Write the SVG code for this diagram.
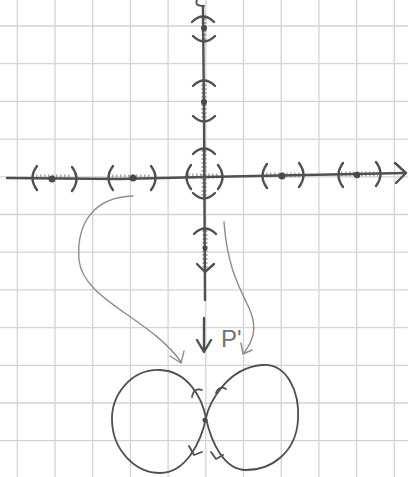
<svg xmlns="http://www.w3.org/2000/svg" width="408" height="477" viewBox="0 0 408 477">
<defs>
<style>
.grid{stroke:#d3d3d3;stroke-width:1.3;fill:none}
.ink{stroke:#505050;stroke-width:2.4;fill:none;stroke-linecap:round;stroke-linejoin:round}
.thin{stroke:#505050;stroke-width:1.8;fill:none;stroke-linecap:round;stroke-linejoin:round}
.pencil{stroke:#8c8c8c;stroke-width:1.4;fill:none;stroke-linecap:round;stroke-linejoin:round}
.hatch{stroke:#a8a8a8;stroke-width:5;fill:none;stroke-dasharray:1.5 2.5}
.dot{fill:#4a4a4a}
.lbl{font-family:"Liberation Sans",Arial,sans-serif;font-size:24px;fill:#727272}
</style>
<path id="lp" class="ink" d="M5,-12 Q-4,0 5,12"/>
<path id="rp" class="ink" d="M-5,-12 Q4,0 -5,12"/>
<path id="tp" class="ink" d="M-11,6 Q0,-5 11,6"/>
<path id="bp" class="ink" d="M-11,-6 Q0,5 11,-6"/>
</defs>
<rect width="408" height="477" fill="#ffffff"/>
<g id="grid" class="grid">
<path d="M17.3,0V477M55,0V477M92.7,0V477M130.4,0V477M168.1,0V477M205.8,0V477M243.5,0V477M281.2,0V477M318.9,0V477M356.6,0V477M394.3,0V477"/>
<path d="M0,26H408M0,63.7H408M0,101.4H408M0,139.1H408M0,176.8H408M0,214.5H408M0,252.2H408M0,289.9H408M0,327.6H408M0,365.3H408M0,403H408M0,440.7H408"/>
</g>
<g id="x-axis">
<path class="hatch" d="M36,177H72M112,177H152M188,176H220M266,175H300M341,174H378"/>
<path class="ink" d="M7,178 L120,179 L205,177 L405,173"/>
<path class="ink" d="M395,163 L406,173 L396,183"/>
<use href="#lp" x="32" y="178"/><use href="#rp" x="77" y="179"/>
<use href="#lp" x="108" y="178"/><use href="#rp" x="156" y="178"/>
<use href="#lp" x="186" y="177"/><use href="#rp" x="223" y="177"/>
<use href="#lp" x="262" y="176"/><use href="#rp" x="304" y="175"/>
<use href="#lp" x="338" y="175"/><use href="#rp" x="381" y="174"/>
<circle class="dot" cx="52" cy="179" r="3.5"/>
<circle class="dot" cx="133" cy="178" r="3.5"/>
<circle class="dot" cx="282" cy="176" r="3.5"/>
<circle class="dot" cx="357" cy="175" r="3.2"/>
</g>
<g id="y-axis">
<path class="hatch" d="M204,18V42M204,84V120M204,150V198M205,230V268" style="stroke-dasharray:2 2"/>
<path class="ink" d="M203,6 L204,120 L205,300"/>
<path class="thin" d="M197,0 Q194,6 204,6"/>
<use href="#tp" x="203" y="16"/><use href="#bp" x="204" y="42"/>
<use href="#tp" x="204" y="80"/><use href="#bp" x="204" y="122"/>
<use href="#tp" x="204" y="148"/><use href="#bp" x="204" y="199"/>
<use href="#tp" x="205" y="228"/>
<path class="ink" d="M197,264 L205,272 L214,264"/>
<circle class="dot" cx="204" cy="28" r="3"/>
<circle class="dot" cx="204" cy="102" r="3"/>
<circle class="dot" cx="205" cy="248" r="2.5"/>
</g>
<g id="map-arrow">
<path class="ink" d="M204,318 V351 M197,340 L204,352 L211,340"/>
<text class="lbl" x="221" y="347">P'</text>
</g>
<g id="figure-eight">
<path class="thin" d="M206,418 C209,404 226,368 262,365 C287,363 300,392 298,420 C296,452 272,470 246,470 C224,470 211,442 206,418 C202,398 188,371 160,370 C131,369 111,395 112,421 C113,450 135,473 160,473 C186,473 201,442 206,418 Z"/>
<path class="thin" d="M192,397 Q194,387 202,390 M216,393 Q219,385 226,389 M189,446 L194,455 L202,452 M211,452 L216,459 L223,455"/>
<circle class="dot" cx="205" cy="420" r="2.5"/>
</g>
<g id="connectors">
<path class="pencil" d="M133,196 C95,197 76,222 79,260 C83,300 150,318 181,362"/>
<path class="pencil" d="M170,356 L181,363 L184,351"/>
<path class="pencil" d="M224,222 C227,265 238,285 250,310 C258,330 252,342 244,353"/>
<path class="pencil" d="M241,343 L243,354 L252,350"/>
</g>
</svg>
